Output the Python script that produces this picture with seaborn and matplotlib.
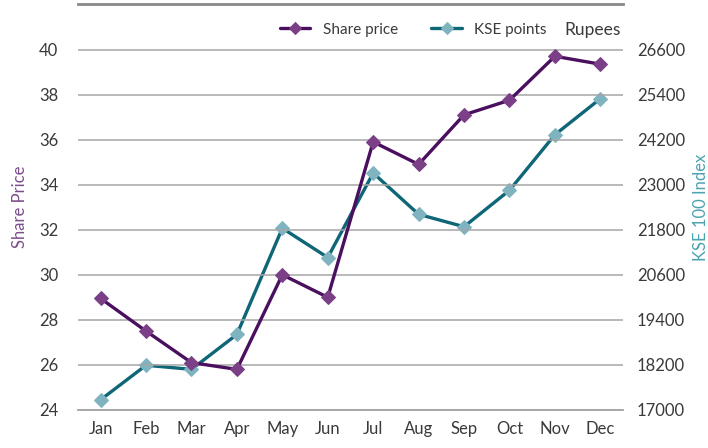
import matplotlib
matplotlib.use("Agg")
import matplotlib.pyplot as plt
import seaborn as sns
import numpy as np

months = ["Jan", "Feb", "Mar", "Apr", "May", "Jun", "Jul", "Aug", "Sep", "Oct", "Nov", "Dec"]
share_price = [28.95, 27.5, 26.1, 25.8, 30.0, 29.0, 35.9, 34.9, 37.1, 37.75, 39.7, 39.35]
kse_points = [17270, 18190, 18080, 19010, 21840, 21060, 23310, 22210, 21880, 22850, 24330, 25290]

sns.set_style("white")
plt.rcParams["font.family"] = ["Lato", "DejaVu Sans"]

purple_line = "#4a0f5e"
purple_mark = "#7a3f86"
teal_line = "#0e6676"
teal_mark = "#7fb3c0"
grid_c = "#a6a6a6"
text_c = "#3a3a3a"

fig = plt.figure(figsize=(7.08, 4.48), dpi=100)
ax = fig.add_axes([0.110, 0.085, 0.770, 0.905])
ax2 = ax.twinx()

sns.lineplot(x=months, y=share_price, ax=ax, color=purple_line, lw=2.4,
             marker="D", markersize=7.5, markerfacecolor=purple_mark,
             markeredgecolor=purple_mark, label="Share price", legend=False, zorder=3)
sns.lineplot(x=months, y=kse_points, ax=ax2, color=teal_line, lw=2.4,
             marker="D", markersize=7.5, markerfacecolor=teal_mark,
             markeredgecolor=teal_mark, label="KSE points", legend=False, zorder=3)

# purple line drawn on top of teal
ax.set_zorder(2)
ax.patch.set_visible(False)

ax.set_xlim(-0.5, 11.5)
ax.set_ylim(24, 42)
ax2.set_ylim(17000, 27800)
ax.set_yticks(np.arange(24, 41, 2))
ax2.set_yticks(np.arange(17000, 26601, 1200))

ax.grid(axis="y", color=grid_c, lw=1.1)
ax.set_axisbelow(True)

for a in (ax, ax2):
    for s in ("left", "right"):
        a.spines[s].set_visible(False)
    a.spines["top"].set_color("#8c8c8c")
    a.spines["top"].set_linewidth(1.8)
    a.spines["bottom"].set_color(grid_c)
    a.spines["bottom"].set_linewidth(1.1)

ax.tick_params(axis="y", length=0, pad=14, labelsize=12, labelcolor=text_c)
ax2.tick_params(axis="y", length=0, pad=10, labelsize=12, labelcolor=text_c)
ax.tick_params(axis="x", which="major", length=0, pad=8, labelsize=12, labelcolor=text_c)
ax.set_xticks(np.arange(-0.5, 12, 1), minor=True)
ax.tick_params(axis="x", which="minor", length=7, color=grid_c, width=1.1, direction="out")

ax.set_xlabel("")
ax.set_ylabel("Share Price", color="#7b4d8c", fontsize=12, labelpad=8)
ax2.set_ylabel("KSE 100 Index", color="#4aa3b0", fontsize=12, labelpad=6)

handles = [ax.get_lines()[0], ax2.get_lines()[0]]
ax.legend(handles, ["Share price", "KSE points"], loc="center right",
          bbox_to_anchor=(0.885, 0.938), ncol=2, frameon=False, fontsize=11,
          labelcolor=text_c, handlelength=2.0, columnspacing=2.2, markerscale=0.8)
ax.text(0.995, 0.938, "Rupees", transform=ax.transAxes, ha="right", va="center",
        fontsize=12.5, color=text_c)

fig.savefig("out.png", dpi=100)
